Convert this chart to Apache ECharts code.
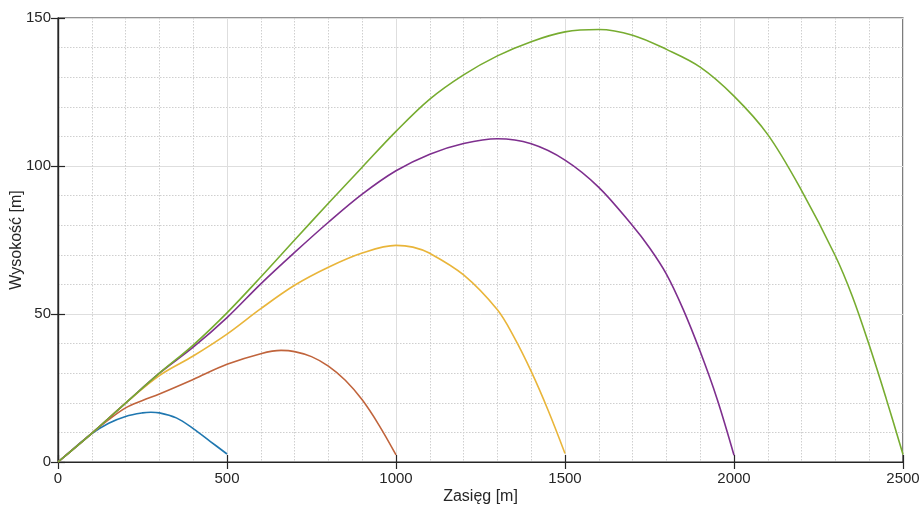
<!DOCTYPE html>
<html>
<head>
<meta charset="utf-8">
<script src="https://cdn.jsdelivr.net/npm/echarts@6/dist/echarts.min.js"></script>
<style>
  html, body { margin: 0; padding: 0; background: #fff; }
  #chart { width: 921px; height: 508px; }
</style>
</head>
<body>
<div id="chart"></div>
<script>
// tick labels
var xTicks = [0, 500, 1000, 1500, 2000, 2500]
var yTicks = [0, 50, 100, 150]

// trajectories (x [m], y [m])
var blueX = [0, 50, 100, 150, 200, 250, 275, 300, 350, 400, 450, 500]
var blueY = [0, 4.9, 9.6, 13.1, 15.4, 16.6, 16.8, 16.6, 14.9, 11.3, 7, 2.7]

var brownX = [0, 100, 150, 200, 250, 300, 400, 500, 600, 660, 700, 750, 800, 850, 900, 950, 1000]
var brownY = [0, 9.7, 14.3, 18.3, 20.8, 23, 27.9, 33, 36.6, 37.7, 37.3, 35.6, 32.4, 27.6, 21, 12.4, 2.4]

var yellowX = [0, 100, 200, 300, 400, 500, 600, 700, 800, 900, 1000, 1050, 1100, 1200, 1300, 1350, 1400, 1450, 1500]
var yellowY = [0, 9.7, 19.9, 29.2, 35.8, 43.2, 51.8, 59.7, 65.8, 70.6, 73.2, 72.6, 70.5, 63.2, 51.4, 42, 30.6, 17.5, 2.9]

var purpleX = [0, 100, 200, 300, 400, 500, 600, 700, 800, 900, 1000, 1100, 1200, 1300, 1400, 1500, 1600, 1700, 1750, 1800, 1850, 1900, 1950, 2000]
var purpleY = [0, 9.7, 19.9, 30, 38.8, 48.8, 60.2, 70.8, 81, 90.5, 98.4, 104, 107.6, 109.2, 107.5, 102, 92.8, 79.8, 72.4, 63.5, 51.5, 37.3, 21.3, 2.3]

var greenX = [0, 100, 200, 300, 400, 500, 600, 700, 800, 900, 1000, 1100, 1200, 1300, 1400, 1500, 1600, 1700, 1800, 1900, 2000, 2100, 2200, 2300, 2350, 2400, 2450, 2500]
var greenY = [0, 9.7, 19.9, 30, 39.5, 50.4, 62.5, 75, 87.4, 99.6, 111.7, 122.6, 130.8, 137.2, 142, 145.3, 146.1, 144.2, 139.4, 133.4, 123.6, 110.6, 91.7, 69.6, 56, 39.5, 21.5, 2.5]

function pairs(xs, ys) {
  return xs.map(function (x, i) { return [x, ys[i]] })
}

var chart = echarts.init(document.getElementById('chart'))

var font = 'Liberation Sans, Arial, sans-serif'
var txt = '#262626'

function line(name, xs, ys, color) {
  return {
    name: name,
    type: 'line',
    data: pairs(xs, ys),
    smooth: 0.35,
    showSymbol: false,
    symbol: 'none',
    lineStyle: { color: color, width: 1.6 },
    z: 5
  }
}

var option = {
  animation: false,
  backgroundColor: '#fff',
  grid: {
    left: 58,
    right: 18,
    top: 18,
    bottom: 46,
    outerBoundsMode: 'none',
    containLabel: false,
    show: true,
    borderColor: '#262626',
    borderWidth: 1.2
  },
  xAxis: [
    {
      type: 'value',
      min: 0,
      max: 2500,
      interval: 500,
      name: 'Zasięg [m]',
      nameLocation: 'middle',
      nameGap: 27,
      nameMoveOverlap: false,
      nameTextStyle: { color: txt, fontSize: 16, fontFamily: font },
      axisLine: { show: true, lineStyle: { color: '#262626', width: 1.2 } },
      axisTick: { show: true, inside: true, length: 7, lineStyle: { color: '#262626', width: 1.2 } },
      axisLabel: {
        color: txt, fontSize: 15, fontFamily: font, margin: 9,
        formatter: function (v) { return xTicks.indexOf(v) >= 0 ? String(v) : '' }
      },
      splitLine: { show: true, lineStyle: { color: '#dedede', width: 1 } },
      minorTick: { show: false, splitNumber: 5 },
      minorSplitLine: { show: true, lineStyle: { color: '#cfcfcf', width: 1, type: [1.5, 1.5] } }
    },
    {
      type: 'value',
      position: 'top',
      min: 0,
      max: 2500,
      interval: 500,
      axisLine: { show: true, lineStyle: { color: '#262626', width: 1.2 } },
      axisTick: { show: true, inside: true, length: 7, lineStyle: { color: '#262626', width: 1.2 } },
      axisLabel: { show: false },
      splitLine: { show: false }
    }
  ],
  yAxis: [
    {
      type: 'value',
      min: 0,
      max: 150,
      interval: 50,
      name: 'Wysokość [m]',
      nameLocation: 'middle',
      nameGap: 33,
      nameMoveOverlap: false,
      nameTextStyle: { color: txt, fontSize: 16, fontFamily: font },
      axisLine: { show: true, lineStyle: { color: '#262626', width: 1.2 } },
      axisTick: { show: true, inside: true, length: 7, lineStyle: { color: '#262626', width: 1.2 } },
      axisLabel: {
        color: txt, fontSize: 15, fontFamily: font, margin: 7,
        formatter: function (v) { return yTicks.indexOf(v) >= 0 ? String(v) : '' }
      },
      splitLine: { show: true, lineStyle: { color: '#dedede', width: 1 } },
      minorTick: { show: false, splitNumber: 5 },
      minorSplitLine: { show: true, lineStyle: { color: '#cfcfcf', width: 1, type: [1.5, 1.5] } }
    },
    {
      type: 'value',
      position: 'right',
      min: 0,
      max: 150,
      interval: 50,
      axisLine: { show: true, lineStyle: { color: '#262626', width: 1.2 } },
      axisTick: { show: true, inside: true, length: 7, lineStyle: { color: '#262626', width: 1.2 } },
      axisLabel: { show: false },
      splitLine: { show: false }
    }
  ],
  series: [
    line('500', blueX, blueY, '#1f77b0'),
    line('1000', brownX, brownY, '#c0643c'),
    line('1500', yellowX, yellowY, '#e9b53a'),
    line('2000', purpleX, purpleY, '#7e2f8e'),
    line('2500', greenX, greenY, '#77ac30')
  ]
}

chart.setOption(option)
</script>
</body>
</html>
